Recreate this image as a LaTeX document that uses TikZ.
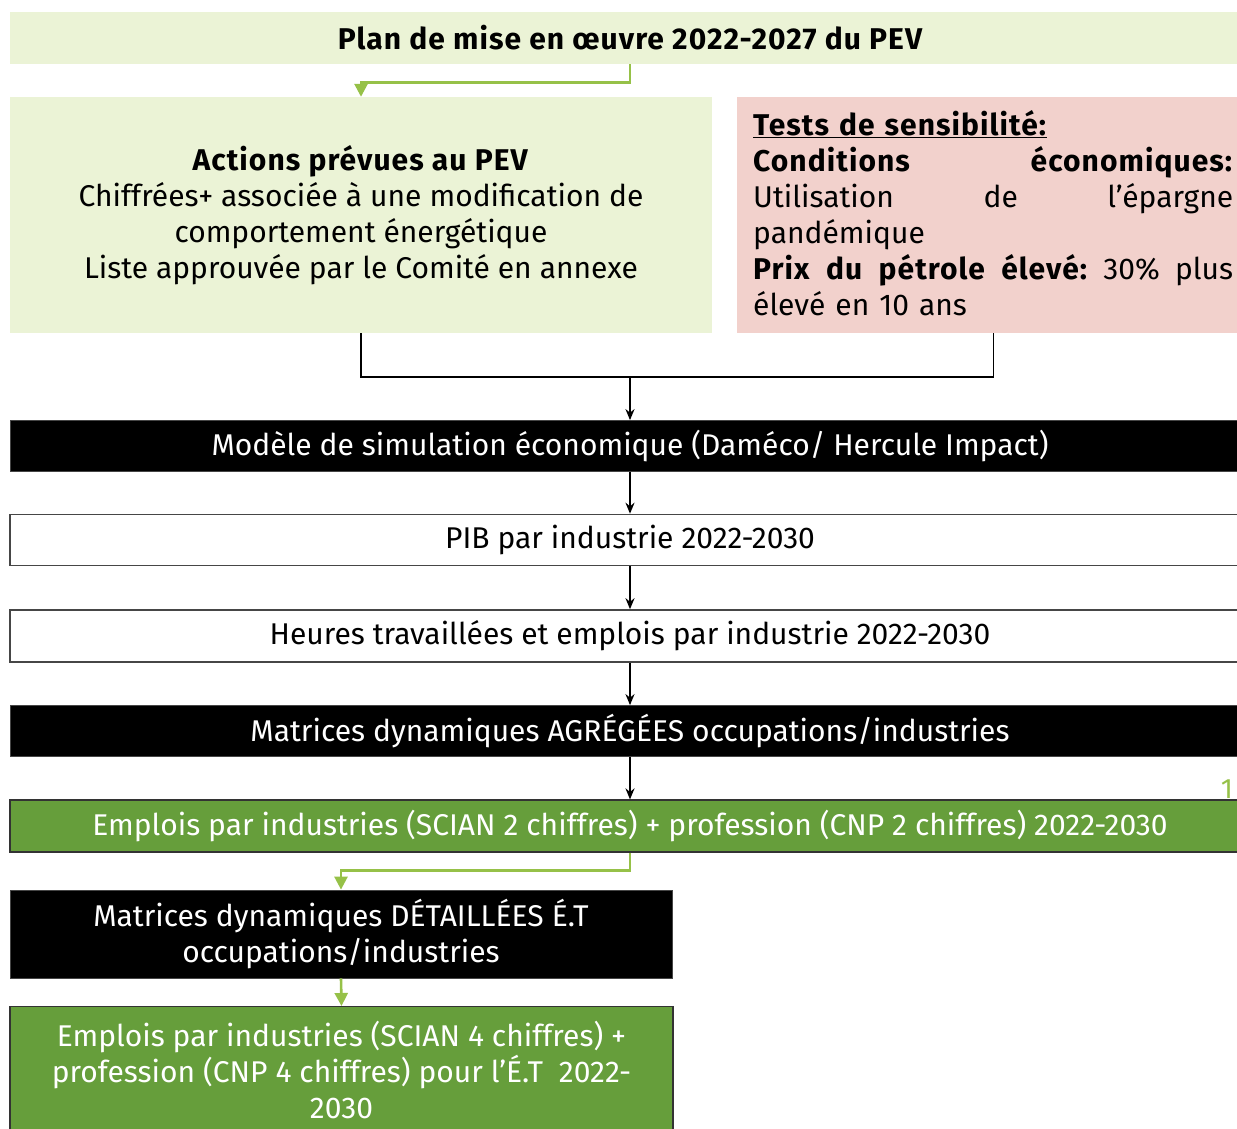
\documentclass[tikz,border=0pt]{standalone}
\usepackage{fontspec}
\setmainfont[BoldFeatures={LetterSpace=3.5}]{Fira Sans}
\usetikzlibrary{arrows.meta}
\definecolor{lgreen}{RGB}{235,243,214}
\definecolor{lpink}{RGB}{242,209,204}
\definecolor{dgreen}{RGB}{102,158,59}
\definecolor{agreen}{RGB}{150,193,72}
\definecolor{bord}{RGB}{70,70,70}
\begin{document}
\begin{tikzpicture}[x=1pt,y=-1pt,
  txt/.style={font=\fontsize{30}{36}\selectfont},
  box/.style={rectangle,inner sep=0pt,txt},
  lgbox/.style={box,fill=lgreen},
  pkbox/.style={box,fill=lpink},
  blkbox/.style={box,fill=black,draw=bord,line width=0.8pt,text=white},
  whbox/.style={box,fill=white,draw=bord,line width=1.6pt},
  grbox/.style={box,fill=dgreen,draw=black!80,line width=1.2pt,text=white},
  barrow/.style={line width=1.8pt,-{Stealth[length=11pt,width=9pt]}},
  bline/.style={line width=1.8pt},
  garrow/.style={agreen,line width=2.6pt,-{Triangle[length=13pt,width=13pt]}}]
\useasboundingbox (0,0) rectangle (1237,1128);
\clip (0,0) rectangle (1237,1128);
% boxes
\node[lgbox,minimum width=1240pt,minimum height=52pt,font=\fontsize{30}{36}\selectfont\bfseries] (plan) at (630,38) {Plan de mise en œuvre 2022-2027 du PEV};
\node[lgbox,minimum width=702pt,minimum height=236pt,align=center] (actions) at (361,215)
  {\textbf{Actions prévues au PEV}\\Chiffrées+ associée à une modification de\\comportement énergétique\\Liste approuvée par le Comité en annexe};
\node[pkbox,minimum width=513pt,minimum height=236pt] (tests) at (993.5,215) {};
\node[txt,anchor=north west,inner sep=0pt,text width=480pt,align=left] (teststxt) at (753,110)
  {\underline{\textbf{Tests de sensibilité:}}\\
   \textbf{Conditions}\hfill\textbf{économiques:}\\
   Utilisation\hfill de\hfill l’épargne\\
   pandémique\\
   \textbf{Prix}\hfill\textbf{du}\hfill\textbf{pétrole}\hfill\textbf{élevé:}\hfill 30\%\hfill plus\\
   élevé en 10 ans};
\node[blkbox,minimum width=1240pt,minimum height=51pt] (modele) at (630,446) {Modèle de simulation économique (Daméco/ Hercule Impact)};
\node[whbox,minimum width=1240pt,minimum height=51pt] (pib) at (630,540) {PIB par industrie 2022-2030};
\node[whbox,minimum width=1240pt,minimum height=52pt] (heures) at (630,636) {Heures travaillées et emplois par industrie 2022-2030};
\node[blkbox,minimum width=1240pt,minimum height=51pt] (agreg) at (630,731) {Matrices dynamiques AGRÉGÉES occupations/industries};
\node[grbox,minimum width=1240pt,minimum height=52pt] (emp2) at (630,826) {Emplois par industries (SCIAN 2 chiffres) + profession (CNP 2 chiffres) 2022-2030};
\node[txt,text=agreen,inner sep=0pt,font=\fontsize{28}{30}\selectfont] (num) at (1227,789) {1};
\node[blkbox,minimum width=662pt,minimum height=88pt,align=center] (detail) at (341,934) {Matrices dynamiques DÉTAILLÉES É.T\\occupations/industries};
\node[grbox,minimum width=663pt,minimum height=126pt,align=center,anchor=north] (emp4) at (341.5,1006) {Emplois par industries (SCIAN 4 chiffres) +\\profession (CNP 4 chiffres) pour l’É.T\ \ 2022-\\2030};
% connectors
\coordinate (j) at (630,377);
\draw[garrow] (plan.south) -- ++(0,18) -| (actions.north);
\draw[bline] (actions.south) -- ++(0,44) -| (tests.south);
\draw[barrow] (j) -- (modele.north);
\draw[barrow] (modele.south) -- (pib.north);
\draw[barrow] (pib.south) -- (heures.north);
\draw[barrow] (heures.south) -- (agreg.north);
\draw[barrow] (agreg.south) -- (emp2.north);
\draw[garrow] (emp2.south) -- ++(0,18) -| (detail.north);
\draw[garrow] (detail.south) -- (emp4.north);
\end{tikzpicture}
\end{document}
